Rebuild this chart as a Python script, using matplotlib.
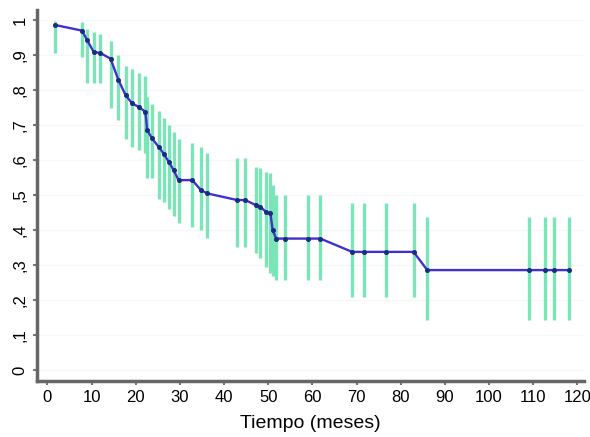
import matplotlib.pyplot as plt

# Kaplan-Meier estimate
tiempo = [1.8, 7.85, 9.0, 10.5, 12.0, 14.3, 16.1, 17.7, 19.2, 20.7, 22.2, 22.6,
          23.7, 25.2, 26.3, 27.5, 28.6, 29.7, 32.8, 34.8, 36.2, 43.0, 44.8,
          47.3, 48.2, 49.5, 50.5, 51.0, 51.8, 53.9, 58.9, 61.8, 69.0, 71.6,
          76.7, 82.9, 86.0, 109.0, 112.7, 114.6, 118.0]
superv = [0.986, 0.970, 0.943, 0.909, 0.906, 0.890, 0.829, 0.786, 0.762, 0.752,
          0.738, 0.686, 0.662, 0.638, 0.619, 0.595, 0.571, 0.543, 0.543, 0.514,
          0.505, 0.486, 0.486, 0.471, 0.467, 0.452, 0.448, 0.40, 0.376, 0.376,
          0.376, 0.376, 0.338, 0.338, 0.338, 0.338, 0.286, 0.286, 0.286, 0.286,
          0.286]
ic_inf = [0.905, 0.895, 0.82, 0.82, 0.82, 0.75, 0.714, 0.66, 0.637, 0.63, 0.62,
          0.55, 0.55, 0.49, 0.48, 0.46, 0.44, 0.42, 0.41, 0.40, 0.377, 0.352,
          0.352, 0.334, 0.32, 0.294, 0.277, 0.27, 0.257, 0.257, 0.257, 0.257,
          0.209, 0.209, 0.209, 0.209, 0.143, 0.143, 0.143, 0.143, 0.143]
ic_sup = [0.998, 0.995, 0.975, 0.965, 0.96, 0.94, 0.90, 0.87, 0.86, 0.85, 0.84,
          0.78, 0.76, 0.74, 0.72, 0.70, 0.68, 0.66, 0.65, 0.637, 0.62, 0.606,
          0.606, 0.58, 0.577, 0.566, 0.563, 0.53, 0.50, 0.50, 0.50, 0.50,
          0.477, 0.477, 0.477, 0.477, 0.437, 0.437, 0.437, 0.437, 0.437]

xticks = list(range(0, 121, 10))
yticks = [0, 0.1, 0.2, 0.3, 0.4, 0.5, 0.6, 0.7, 0.8, 0.9, 1.0]
ylabels = ['0', ',1', ',2', ',3', ',4', ',5', ',6', ',7', ',8', ',9', '1']

plt.rcParams['font.family'] = ['Liberation Sans', 'DejaVu Sans']

fig = plt.figure(figsize=(5.9, 4.37), dpi=100)
ax = fig.add_axes([0.063, 0.128, 0.927, 0.85])

# faint horizontal guides
for yv in yticks:
    ax.axhline(yv, color='#f7f7f7', lw=1, zorder=0)

ax.vlines(tiempo, ic_inf, ic_sup, color='#7ae6b8', lw=2.4, zorder=1)
ax.plot(tiempo, superv, color='#4030d0', lw=1.7, zorder=2)
ax.plot(tiempo, superv, ls='none', marker='o', ms=2.6, color='#1c2c80', zorder=3)

ax.set_xlim(-2.3, 121.5)
ax.set_ylim(-0.031, 1.03)
ax.set_xticks(xticks)
ax.set_yticks(yticks)
ax.set_yticklabels(ylabels, rotation=90, va='center')
ax.tick_params(axis='both', labelsize=12, length=3, width=1.5,
               color='#777777', labelcolor='black')
ax.tick_params(axis='y', pad=4)

for s in ['top', 'right']:
    ax.spines[s].set_visible(False)
for s in ['left', 'bottom']:
    ax.spines[s].set_linewidth(2.5)
    ax.spines[s].set_color('#666666')

ax.set_xlabel('Tiempo (meses)', fontsize=14, labelpad=7)

fig.savefig('out.png', dpi=100)
